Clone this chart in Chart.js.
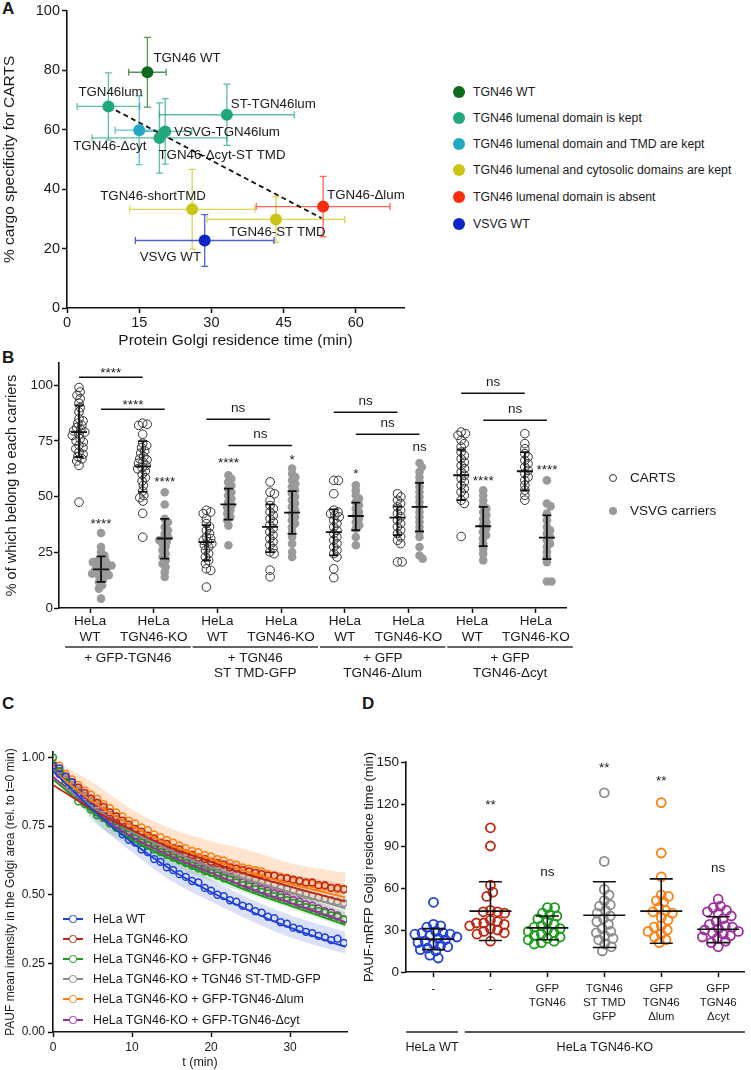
<!DOCTYPE html>
<html>
<head>
<meta charset="utf-8">
<title>TGN46 figure</title>
<script src="https://cdn.jsdelivr.net/npm/chart.js@4.4.1/dist/chart.umd.min.js"></script>
<style>
  html, body { margin: 0; padding: 0; background: #fff; }
  body { position: relative; width: 751px; height: 1070px; overflow: hidden;
         font-family: "Liberation Sans", Arial, Helvetica, sans-serif; color: #1a1a1a; }
  canvas { position: absolute; }
  .txt { position: absolute; white-space: nowrap; }
  .panel { position: absolute; font-weight: bold; font-size: 17px; line-height: 17px; }
  .dot { position: absolute; border-radius: 50%; box-sizing: border-box; }
  .seg { position: absolute; }
</style>
</head>
<body>
<div class="panel" style="left:2px;top:0px">A</div>
<div class="panel" style="left:2px;top:349px">B</div>
<div class="panel" style="left:2px;top:695px">C</div>
<div class="panel" style="left:362px;top:695px">D</div>
<canvas id="chartA" width="420" height="350" style="left:0;top:0"></canvas>
<canvas id="chartB" width="600" height="345" style="left:0;top:340px"></canvas>
<canvas id="chartC" width="370" height="380" style="left:0;top:690px"></canvas>
<canvas id="chartD" width="391" height="380" style="left:360px;top:690px"></canvas>
<div id="legends"></div>
<script>
// ---------- panel A: cargo specificity vs Golgi residence ----------
const aNames = ['TGN46 WT', 'TGN46lum', 'ST-TGN46lum', 'VSVG-TGN46lum', 'TGN46-Δcyt',
  'TGN46-Δcyt-ST TMD', 'TGN46-shortTMD', 'TGN46-ST TMD', 'TGN46-Δlum', 'VSVG WT'];
const aResidence = [16.7, 8.6, 33.2, 20.4, 15.0, 19.2, 26.0, 43.4, 53.2, 28.6];
const aResidenceErr = [3.9, 6.5, 14.0, 5.5, 5.0, 14.0, 13.0, 14.3, 13.9, 14.4];
const aSpecificity = [79.3, 67.8, 65.0, 59.4, 59.8, 57.2, 33.2, 29.8, 34.1, 22.7];
const aSpecificityErr = [11.7, 11.3, 10.3, 11.0, 11.6, 11.8, 13.4, 7.7, 10.2, 8.7];
const aClass = [0, 1, 1, 1, 2, 1, 3, 3, 4, 5];
const aClassNames = ['TGN46 WT', 'TGN46 lumenal domain is kept', 'TGN46 lumenal domain and TMD are kept',
  'TGN46 lumenal and cytosolic domains are kept', 'TGN46 lumenal domain is absent', 'VSVG WT'];
const aClassColors = ['#0e6a1e', '#20a878', '#21a8c6', '#cac412', '#fd2b0d', '#0b25c8'];
const aTrendTime = [8.6, 52.9];
const aTrendSpec = [67.8, 30.2];
const aTimeTicks = [0, 15, 30, 45, 60];
const aSpecTicks = [0, 20, 40, 60, 80, 100];
// label placement relative to each point (px)
const aLabelDx = [6, -30, 4, 9, -66, -1, -92, -47, 4, -65];
const aLabelDy = [-14, -14, -10, 1, 16, 17, -13, 13, -11, 17];

// ---------- panel B: % of carriers ----------
const bCategories = [['HeLa', 'WT'], ['HeLa', 'TGN46-KO'], ['HeLa', 'WT'], ['HeLa', 'TGN46-KO'],
  ['HeLa', 'WT'], ['HeLa', 'TGN46-KO'], ['HeLa', 'WT'], ['HeLa', 'TGN46-KO']];
const bTreatments = [['+ GFP-TGN46'], ['+ TGN46', 'ST TMD-GFP'], ['+ GFP', 'TGN46-Δlum'], ['+ GFP', 'TGN46-Δcyt']];
const bCarts = [
  [99, 97, 95.5, 94, 92, 90, 88, 85, 84, 83, 82, 81, 80, 79.5, 79, 78, 77.5, 76, 75, 74.5, 73, 72, 71.5, 70, 69, 68, 67, 66, 64, 47.5],
  [83, 82.5, 82, 78, 74, 73, 72, 70.5, 69.5, 68, 67, 66.5, 65.5, 65, 64, 63, 62.5, 61.5, 60, 58.5, 57, 55, 52.5, 50.5, 49.5, 48, 42.5, 31.8],
  [43.9, 43.1, 42.4, 40.1, 37.9, 36.4, 34.9, 33.4, 31.9, 31.2, 30.4, 29.7, 28.9, 28.2, 27.4, 25.9, 24.4, 22.9, 21.4, 19.9, 17.6, 16.9, 9.4],
  [56.6, 52, 51.3, 48.3, 46, 44.6, 43.1, 41.6, 40.1, 38.6, 37.2, 35.7, 34.2, 32.7, 31.2, 29.7, 28.2, 26.7, 25.2, 24.4, 17, 14],
  [57.3, 57.3, 51.3, 43.9, 43.1, 42.4, 41.6, 40.9, 39.4, 37.9, 36.4, 34.9, 33.4, 31.9, 30.4, 28.9, 27.4, 25.9, 24.4, 22.9, 17.6, 13.6],
  [51.3, 49.9, 48.4, 46.9, 45.4, 43.9, 42.4, 40.9, 39.4, 37.9, 36.4, 34.9, 33.4, 31.9, 30.4, 28.9, 20.7, 20.7],
  [79, 78.3, 77.5, 75.3, 73.8, 72.3, 70, 68.5, 67, 65.5, 64, 62.6, 61.1, 59.6, 58.1, 56.6, 55.1, 53.6, 52.1, 50.6, 48.4, 46.9, 32.1],
  [78.3, 73.8, 71.5, 69.3, 67.8, 66.3, 64.8, 63.3, 61.8, 60.3, 58.8, 57.3, 55.1, 52.9, 50.6, 48.4]
];
const bVsvg = [
  [33.7, 27.4, 25, 23.6, 22.2, 21.4, 21, 20.6, 20, 19.5, 19.1, 18.4, 17.6, 17, 16.5, 16.1, 15.4, 15, 14.7, 14, 12.7, 11.7, 10.2, 8.7, 4.2],
  [52, 46.5, 40, 38.5, 36.4, 34.9, 33.4, 31.9, 31.2, 30.4, 29.7, 28.9, 27.4, 25.9, 24.4, 22.9, 21.4, 19.9, 18.4, 16.1, 13.9],
  [59.6, 58, 56.5, 55, 53.5, 52, 50.5, 49, 47.5, 46, 45.3, 43.9, 42.4, 40.9, 39.4, 37, 28.2],
  [62.6, 60.3, 58.8, 57.3, 55.8, 54.4, 52.9, 51.4, 49.9, 48.4, 46.9, 45.4, 43.9, 42.4, 40.9, 39.4, 37.9, 36.4, 34.2, 31.9, 28.9, 25.1, 22.9],
  [55.1, 52.9, 50.6, 49.1, 47.6, 46.1, 44.6, 43.1, 41.6, 40.1, 38.6, 37.2, 35.7, 31.9, 28.2],
  [65.1, 63.3, 61.1, 58.8, 56.6, 54.4, 52.1, 49.9, 47.6, 45.4, 43.1, 40.9, 38.6, 36.4, 34.2, 31.9, 27.4, 23.6, 22.1],
  [52.9, 50.6, 48.4, 46.1, 44.6, 43.1, 41.6, 40.1, 38.6, 37.2, 35.7, 34.2, 32.7, 31.2, 28.9, 26.7, 24.4, 21.4],
  [57.3, 46.9, 45.7, 42.4, 39.4, 36.4, 34.9, 33.4, 31.9, 30.4, 28.9, 27.4, 25.1, 22.9, 20.6, 11.9, 11.9]
];
const bCartsMean = [79, 63.6, 29.6, 36.4, 34.1, 40.6, 59.6, 61.4];
const bCartsLo = [67.8, 52.1, 21.4, 25.1, 23.6, 32.7, 48.4, 52.8];
const bCartsHi = [91, 74.9, 37.2, 46.5, 44.3, 45.6, 71.1, 70];
const bVsvgMean = [17.3, 31.2, 46.5, 42.8, 41.3, 45.4, 36.7, 31.6];
const bVsvgLo = [11.7, 22.2, 39.7, 33.3, 34.9, 34.4, 27.8, 21.9];
const bVsvgHi = [23.2, 40, 53.6, 52.5, 47.3, 56.2, 45.4, 41.6];
const bPairSig = [['****', '****'], ['ns', 'ns'], ['ns', 'ns'], ['ns', 'ns']];
const bCartsLineY = [103.6, 84.7, 87.9, 96.4];
const bVsvgLineY = [89.2, 73, 78, 84.3];
const bVsvgSig = ['****', '****', '****', '*', '*', 'ns', '****', '****'];
const bVsvgSigY = [39.4, 58.2, 66.8, 68.1, 61.8, 72.2, 58.7, 63.6];
const bTicks = [0, 25, 50, 75, 100];

// ---------- panel C: PAUF decay ----------
const cNames = ['HeLa WT', 'HeLa TGN46-KO', 'HeLa TGN46-KO + GFP-TGN46', 'HeLa TGN46-KO + TGN46 ST-TMD-GFP',
  'HeLa TGN46-KO + GFP-TGN46-Δlum', 'HeLa TGN46-KO + GFP-TGN46-Δcyt'];
const cColors = ['#1f40d8', '#bf2510', '#1c9c1c', '#8c8c8c', '#ff7f0e', '#9c2f9c'];
const cTimes = [0, 0.8, 1.6, 2.4, 3.2, 4, 4.8, 5.6, 6.4, 7.2, 8, 8.8, 9.6, 10.4, 11.2, 12, 12.8, 13.6, 14.4, 15.2,
  16, 16.8, 17.6, 18.4, 19.2, 20, 20.8, 21.6, 22.4, 23.2, 24, 24.8, 25.6, 26.4, 27.2, 28, 28.8, 29.6, 30.4,
  31.2, 32, 32.8, 33.6, 34.4, 35.2, 36, 36.8];
const cWT = [0.97, 0.96, 0.93, 0.91, 0.87, 0.85, 0.82, 0.79, 0.78, 0.76, 0.745, 0.72, 0.70, 0.69, 0.665, 0.655,
  0.63, 0.62, 0.60, 0.59, 0.575, 0.565, 0.55, 0.545, 0.525, 0.515, 0.50, 0.495, 0.48, 0.475, 0.46, 0.455, 0.44,
  0.435, 0.42, 0.415, 0.40, 0.395, 0.38, 0.375, 0.365, 0.36, 0.35, 0.345, 0.335, 0.34, 0.325];
const cKO = [0.97, 0.95, 0.93, 0.91, 0.89, 0.87, 0.85, 0.835, 0.82, 0.80, 0.785, 0.77, 0.755, 0.74, 0.73, 0.715,
  0.705, 0.69, 0.685, 0.67, 0.665, 0.65, 0.645, 0.635, 0.63, 0.62, 0.615, 0.61, 0.60, 0.595, 0.59, 0.585, 0.58,
  0.575, 0.57, 0.57, 0.56, 0.56, 0.555, 0.55, 0.545, 0.545, 0.535, 0.535, 0.525, 0.525, 0.52];
const cKOgfp = [1.00, 0.95, 0.91, 0.88, 0.84, 0.83, 0.81, 0.79, 0.78, 0.76, 0.745, 0.73, 0.72, 0.705, 0.69, 0.68,
  0.665, 0.655, 0.645, 0.635, 0.625, 0.615, 0.605, 0.595, 0.585, 0.58, 0.57, 0.56, 0.555, 0.545, 0.535, 0.53, 0.52,
  0.51, 0.505, 0.495, 0.49, 0.48, 0.47, 0.465, 0.455, 0.45, 0.44, 0.435, 0.425, 0.42, 0.41];
const cKOst = [0.97, 0.95, 0.92, 0.90, 0.88, 0.86, 0.84, 0.82, 0.805, 0.79, 0.775, 0.76, 0.745, 0.73, 0.72, 0.705,
  0.695, 0.68, 0.67, 0.66, 0.65, 0.64, 0.635, 0.625, 0.615, 0.61, 0.60, 0.59, 0.585, 0.575, 0.57, 0.56, 0.555,
  0.545, 0.54, 0.535, 0.525, 0.52, 0.515, 0.505, 0.50, 0.495, 0.49, 0.485, 0.48, 0.475, 0.47];
const cKOlum = [0.98, 0.97, 0.94, 0.92, 0.90, 0.88, 0.865, 0.85, 0.83, 0.815, 0.80, 0.785, 0.77, 0.76, 0.745, 0.735,
  0.72, 0.71, 0.70, 0.69, 0.68, 0.67, 0.66, 0.655, 0.645, 0.64, 0.63, 0.625, 0.615, 0.61, 0.60, 0.595, 0.59,
  0.585, 0.575, 0.57, 0.565, 0.56, 0.55, 0.55, 0.54, 0.54, 0.53, 0.53, 0.525, 0.52, 0.52];
const cKOcyt = [0.96, 0.94, 0.91, 0.88, 0.86, 0.84, 0.82, 0.80, 0.785, 0.77, 0.755, 0.74, 0.73, 0.715, 0.70, 0.69,
  0.68, 0.665, 0.655, 0.645, 0.635, 0.625, 0.615, 0.605, 0.595, 0.59, 0.58, 0.57, 0.565, 0.555, 0.545, 0.54, 0.53,
  0.52, 0.515, 0.505, 0.50, 0.49, 0.48, 0.475, 0.465, 0.46, 0.45, 0.44, 0.435, 0.425, 0.41];
const cKnots = [0, 5, 10, 15, 20, 25, 30, 37];
const cFits = [
  [0.95, 0.81, 0.69, 0.59, 0.51, 0.44, 0.38, 0.31],
  [0.90, 0.81, 0.735, 0.67, 0.62, 0.57, 0.53, 0.475],
  [0.92, 0.80, 0.70, 0.63, 0.57, 0.51, 0.46, 0.39],
  [0.92, 0.82, 0.73, 0.66, 0.60, 0.55, 0.51, 0.45],
  [0.95, 0.84, 0.75, 0.68, 0.63, 0.58, 0.54, 0.49],
  [0.93, 0.81, 0.71, 0.64, 0.58, 0.52, 0.47, 0.40]
];
const cBandLo = [
  [0.96, 0.78, 0.655, 0.55, 0.475, 0.405, 0.345, 0.285],
  [0.96, 0.825, 0.72, 0.652, 0.60, 0.565, 0.535, 0.50],
  [0.99, 0.77, 0.68, 0.605, 0.55, 0.50, 0.45, 0.38],
  [0.96, 0.805, 0.70, 0.625, 0.58, 0.535, 0.495, 0.44],
  [0.97, 0.83, 0.71, 0.64, 0.585, 0.54, 0.495, 0.46],
  [0.95, 0.80, 0.695, 0.627, 0.565, 0.515, 0.46, 0.385]
];
const cBandHi = [
  [0.98, 0.84, 0.725, 0.63, 0.555, 0.485, 0.425, 0.365],
  [0.98, 0.865, 0.76, 0.692, 0.64, 0.605, 0.575, 0.54],
  [1.0, 0.83, 0.74, 0.665, 0.61, 0.56, 0.51, 0.44],
  [0.98, 0.865, 0.76, 0.685, 0.64, 0.595, 0.555, 0.50],
  [0.99, 0.91, 0.81, 0.74, 0.695, 0.66, 0.615, 0.58],
  [0.97, 0.85, 0.745, 0.677, 0.615, 0.565, 0.51, 0.435]
];
const cTimeTicks = [0, 10, 20, 30];
const cIntTicks = [0, 0.25, 0.5, 0.75, 1.0];

// ---------- panel D: PAUF-mRFP residence time ----------
const dLabels = [['-'], ['-'], ['GFP', 'TGN46'], ['TGN46', 'ST TMD', 'GFP'], ['GFP', 'TGN46', 'Δlum'], ['GFP', 'TGN46', 'Δcyt']];
const dColors = ['#1f40d8', '#bf2510', '#1c9c1c', '#8c8c8c', '#ff7f0e', '#9c2f9c'];
const dValues = [
  [49.8, 34, 33, 32, 29, 28, 28, 27, 27, 26, 25, 24, 23, 22, 21, 20, 19, 18, 17, 16, 15, 12, 10],
  [103, 90, 62, 57, 54, 44, 43, 43, 42, 37, 36, 35, 35, 34, 33, 31, 30, 29, 28, 27, 22],
  [46, 46, 42, 41, 40, 38, 36, 34, 33, 32, 31, 30, 29, 28, 27, 26, 25, 24, 23, 22, 21, 20],
  [128, 79, 59, 55, 51, 48, 47, 44, 42, 40, 38, 36, 34, 31, 29, 28, 26, 24, 23, 20, 18, 15],
  [121, 85, 68, 55, 54, 51, 50, 46, 44, 43, 42, 39, 37, 33, 32, 30, 29, 27, 25, 23, 21],
  [52, 47, 46, 44, 43, 42, 40, 38, 36, 34, 33, 32, 31, 30, 29, 28, 27, 26, 25, 24, 22, 21, 18]
];
const dMean = [23.5, 43.5, 31.5, 40.5, 43.5, 30.5];
const dLo = [16, 22.5, 23, 17.5, 20.5, 21];
const dHi = [31, 64.5, 40, 64.5, 66.5, 39.5];
const dSig = ['', '**', 'ns', '**', '**', 'ns'];
const dSigY = [0, 122, 71.4, 148.6, 139.3, 73.6];
const dCells = ['HeLa WT', 'HeLa TGN46-KO'];
const dCellSpan = [[-0.48, 0.43], [0.55, 5.47]];
const dTicks = [0, 30, 60, 90, 120, 150];

// ---------- common setup ----------
const FONT = '"Liberation Sans", Arial, Helvetica, sans-serif';
const INK = '#1a1a1a';
Chart.defaults.font.family = FONT;
Chart.defaults.color = INK;
Chart.defaults.animation = false;
Chart.defaults.responsive = false;
Chart.defaults.devicePixelRatio = 1;
Chart.defaults.events = [];
Chart.defaults.plugins.legend.display = false;
Chart.defaults.plugins.tooltip.enabled = false;

function rgba(hex, a) {
  const n = parseInt(hex.slice(1), 16);
  return `rgba(${n >> 16},${(n >> 8) & 255},${n & 255},${a})`;
}
const fixTicks = vals => scale => { scale.ticks = vals.map(v => ({ value: v })); };
function axis(extra) {
  return Object.assign({
    type: 'linear',
    grid: { display: true, drawOnChartArea: false, drawTicks: true, tickLength: 5, tickWidth: 1.5, tickColor: '#111' },
    border: { display: true, color: '#111', width: 1.6 }
  }, extra);
}

// simple beeswarm: horizontal offsets (in x units) so circles don't pile up
function swarm(vals, pxPerY, pxPerX, diam) {
  const order = vals.map((v, i) => i).sort((a, b) => vals[b] - vals[a]);
  const placed = [];
  const off = new Array(vals.length).fill(0);
  order.forEach(i => {
    const y = vals[i] * pxPerY;
    const cands = [0];
    placed.forEach(p => {
      const dy = Math.abs(p.y - y);
      if (dy < diam) {
        const dx = Math.sqrt(diam * diam - dy * dy);
        cands.push(p.x + dx, p.x - dx);
      }
    });
    cands.sort((a, b) => Math.abs(a) - Math.abs(b));
    const x = cands.find(c => placed.every(p => (p.x - c) ** 2 + (p.y - y) ** 2 >= diam * diam - 0.01));
    placed.push({ x, y });
    off[i] = x / pxPerX;
  });
  return off;
}

function meanSd(ctx, cx, yMean, yLo, yHi, hw, cw) {
  ctx.beginPath();
  ctx.moveTo(cx, yLo); ctx.lineTo(cx, yHi);
  ctx.moveTo(cx - cw, yLo); ctx.lineTo(cx + cw, yLo);
  ctx.moveTo(cx - cw, yHi); ctx.lineTo(cx + cw, yHi);
  ctx.moveTo(cx - hw, yMean); ctx.lineTo(cx + hw, yMean);
  ctx.stroke();
}
// text placed by the visual centre of its glyphs
function sigText(ctx, text, x, yc, size) {
  ctx.font = `${size}px ${FONT}`;
  ctx.textAlign = 'center';
  ctx.textBaseline = 'alphabetic';
  const k = text.includes('*') ? 0.57 : 0.26;
  ctx.fillText(text, x, yc + k * size);
}

// ---------- chart A ----------
const aPlugin = {
  id: 'aPlugin',
  beforeDatasetsDraw(chart) {
    const { ctx, scales: { x, y } } = chart;
    ctx.save();
    ctx.lineWidth = 1.3;
    aNames.forEach((n, i) => {
      const px = x.getPixelForValue(aResidence[i]);
      const py = y.getPixelForValue(aSpecificity[i]);
      const xl = x.getPixelForValue(aResidence[i] - aResidenceErr[i]);
      const xr = x.getPixelForValue(aResidence[i] + aResidenceErr[i]);
      const yt = y.getPixelForValue(aSpecificity[i] + aSpecificityErr[i]);
      const yb = y.getPixelForValue(aSpecificity[i] - aSpecificityErr[i]);
      ctx.strokeStyle = rgba(aClassColors[aClass[i]], 0.72);
      ctx.beginPath();
      ctx.moveTo(xl, py); ctx.lineTo(xr, py);
      ctx.moveTo(xl, py - 3.5); ctx.lineTo(xl, py + 3.5);
      ctx.moveTo(xr, py - 3.5); ctx.lineTo(xr, py + 3.5);
      ctx.moveTo(px, yt); ctx.lineTo(px, yb);
      ctx.moveTo(px - 3.5, yt); ctx.lineTo(px + 3.5, yt);
      ctx.moveTo(px - 3.5, yb); ctx.lineTo(px + 3.5, yb);
      ctx.stroke();
    });
    ctx.restore();
  },
  afterDatasetsDraw(chart) {
    const { ctx, scales: { x, y } } = chart;
    ctx.save();
    ctx.fillStyle = INK;
    ctx.font = `13.3px ${FONT}`;
    ctx.textAlign = 'left';
    ctx.textBaseline = 'middle';
    aNames.forEach((n, i) => {
      ctx.fillText(n, x.getPixelForValue(aResidence[i]) + aLabelDx[i], y.getPixelForValue(aSpecificity[i]) + aLabelDy[i]);
    });
    ctx.restore();
  }
};
const aDatasets = aClassNames.map((cls, k) => ({
  label: cls,
  data: aNames.map((n, i) => ({ x: aResidence[i], y: aSpecificity[i], k: aClass[i] })).filter(p => p.k === k),
  backgroundColor: aClassColors[k],
  borderColor: aClassColors[k],
  borderWidth: 0,
  pointRadius: 6,
  order: 1
}));
aDatasets.push({
  type: 'line',
  data: aTrendTime.map((t, i) => ({ x: t, y: aTrendSpec[i] })),
  borderColor: '#111', borderWidth: 1.8, borderDash: [5, 3.5], pointRadius: 0, order: 2
});
new Chart(document.getElementById('chartA'), {
  type: 'scatter',
  data: { datasets: aDatasets },
  options: {
    layout: { padding: { left: 0, top: 10, right: 16, bottom: 0 } },
    scales: {
      x: axis({
        min: 0, max: 70, afterBuildTicks: fixTicks(aTimeTicks), afterFit: s => { s.height = 42; },
        ticks: { font: { size: 14.5 }, padding: 1, color: INK, autoSkip: false, maxRotation: 0 },
        title: { display: true, text: 'Protein Golgi residence time (min)', font: { size: 15.5 }, padding: 0, color: INK }
      }),
      y: axis({
        min: 0, max: 100, afterBuildTicks: fixTicks(aSpecTicks), afterFit: s => { s.width = 67; },
        ticks: { font: { size: 14.5 }, padding: 2, color: INK },
        title: { display: true, text: '% cargo specificity for CARTS', font: { size: 15.5 }, padding: 0, color: INK }
      })
    }
  },
  plugins: [aPlugin]
});

// ---------- chart B ----------
const B_SHIFT = 0.173;
const bCartsOff = bCarts.map(v => swarm(v, 2.227, 63.7, 4.6));
const bVsvgOff = bVsvg.map(v => swarm(v, 2.227, 63.7, 4.6));
const bPlugin = {
  id: 'bPlugin',
  afterDatasetsDraw(chart) {
    const { ctx, scales: { x, y } } = chart;
    ctx.save();
    ctx.strokeStyle = '#111';
    ctx.lineWidth = 1.8;
    bCategories.forEach((c, i) => {
      meanSd(ctx, x.getPixelForValue(i - B_SHIFT), y.getPixelForValue(bCartsMean[i]),
        y.getPixelForValue(bCartsLo[i]), y.getPixelForValue(bCartsHi[i]), 8, 4.5);
      meanSd(ctx, x.getPixelForValue(i + B_SHIFT), y.getPixelForValue(bVsvgMean[i]),
        y.getPixelForValue(bVsvgLo[i]), y.getPixelForValue(bVsvgHi[i]), 8, 4.5);
    });
    ctx.fillStyle = INK;
    ctx.lineWidth = 1.5;
    bPairSig.forEach((sig, k) => {
      [[bCartsLineY[k], -B_SHIFT, sig[0]], [bVsvgLineY[k], B_SHIFT, sig[1]]].forEach(([ly, sh, txt]) => {
        const x0 = x.getPixelForValue(2 * k + sh), x1 = x.getPixelForValue(2 * k + 1 + sh);
        const py = y.getPixelForValue(ly);
        ctx.beginPath(); ctx.moveTo(x0, py); ctx.lineTo(x1, py); ctx.stroke();
        sigText(ctx, txt, (x0 + x1) / 2, py - (txt.includes('*') ? 8 : 11), 13.5);
      });
    });
    bVsvgSig.forEach((s, i) => sigText(ctx, s, x.getPixelForValue(i + B_SHIFT), y.getPixelForValue(bVsvgSigY[i]), 13.5));
    ctx.restore();
  },
  afterDraw(chart) {
    const { ctx, chartArea, scales: { x } } = chart;
    ctx.save();
    ctx.strokeStyle = '#333';
    ctx.lineWidth = 1.5;
    ctx.fillStyle = INK;
    ctx.font = `13.5px ${FONT}`;
    ctx.textAlign = 'center';
    ctx.textBaseline = 'middle';
    bTreatments.forEach((lines, k) => {
      const x0 = x.getPixelForValue(2 * k - 0.39), x1 = x.getPixelForValue(2 * k + 1.58);
      const ly = chartArea.bottom + 39;
      ctx.beginPath(); ctx.moveTo(x0, ly); ctx.lineTo(x1, ly); ctx.stroke();
      lines.forEach((t, j) => ctx.fillText(t, (x0 + x1) / 2, chartArea.bottom + 50 + 15.5 * j));
    });
    ctx.restore();
  }
};
new Chart(document.getElementById('chartB'), {
  type: 'scatter',
  data: {
    datasets: [
      {
        label: 'CARTS',
        data: bCarts.flatMap((vals, i) => vals.map((v, j) => ({ x: i - B_SHIFT + bCartsOff[i][j], y: v }))),
        backgroundColor: 'rgba(255,255,255,0)', borderColor: '#333', borderWidth: 1, pointRadius: 4.3
      },
      {
        label: 'VSVG carriers',
        data: bVsvg.flatMap((vals, i) => vals.map((v, j) => ({ x: i + B_SHIFT + bVsvgOff[i][j], y: v }))),
        backgroundColor: '#9a9a9a', borderColor: '#9a9a9a', borderWidth: 0, pointRadius: 4.3
      }
    ]
  },
  options: {
    layout: { padding: { left: 0, top: 23, right: 34, bottom: 0 } },
    scales: {
      x: axis({
        min: -0.487, max: 7.473, afterBuildTicks: fixTicks(bCategories.map((c, i) => i)),
        afterFit: s => { s.height = 77; },
        ticks: { font: { size: 13.5, lineHeight: 1.2 }, padding: 0, color: INK, autoSkip: false, maxRotation: 0, minRotation: 0,
          callback: v => bCategories[v] }
      }),
      y: axis({
        min: 0, max: 110, afterBuildTicks: fixTicks(bTicks), afterFit: s => { s.width = 59; },
        ticks: { font: { size: 13.5 }, padding: 1, color: INK },
        title: { display: true, text: '% of which belong to each carriers', font: { size: 14.5 }, padding: { top: 3 }, color: INK }
      })
    }
  },
  plugins: [bPlugin]
});

// ---------- chart C ----------
const cValues = [cWT, cKO, cKOgfp, cKOst, cKOlum, cKOcyt];
const cDrawOrder = [2, 3, 1, 5, 6, 4]; // lower = drawn on top
const cDatasets = [];
cValues.forEach((vals, s) => {
  cDatasets.push({
    data: cKnots.map((t, i) => ({ x: t, y: cBandHi[s][i] })),
    showLine: true, borderWidth: 0, pointRadius: 0, cubicInterpolationMode: 'monotone', order: 20 + s
  });
  cDatasets.push({
    data: cKnots.map((t, i) => ({ x: t, y: cBandLo[s][i] })),
    showLine: true, borderWidth: 0, pointRadius: 0, cubicInterpolationMode: 'monotone', order: 20 + s,
    fill: '-1', backgroundColor: rgba(cColors[s], s === 4 ? 0.2 : 0.16)
  });
});
cValues.forEach((vals, s) => {
  cDatasets.push({
    label: cNames[s],
    data: cTimes.map((t, i) => ({ x: t, y: vals[i] })),
    showLine: false, pointStyle: 'circle', pointRadius: 3.4, borderWidth: 1.5,
    borderColor: cColors[s], backgroundColor: 'rgba(255,255,255,0)', order: 2 + cDrawOrder[s]
  });
  cDatasets.push({
    data: cKnots.map((t, i) => ({ x: t, y: cFits[s][i] })),
    showLine: true, borderColor: cColors[s], borderWidth: 1.8, pointRadius: 0,
    cubicInterpolationMode: 'monotone', order: 1
  });
});
new Chart(document.getElementById('chartC'), {
  type: 'scatter',
  data: { datasets: cDatasets },
  options: {
    layout: { padding: { left: 0, top: 62, right: 23, bottom: 0 } },
    plugins: { filler: { propagate: false } },
    scales: {
      x: axis({
        min: 0, max: 37.2, afterBuildTicks: fixTicks(cTimeTicks), afterFit: s => { s.height = 38; },
        ticks: { font: { size: 12 }, padding: 3, color: INK, autoSkip: false, maxRotation: 0 },
        title: { display: true, text: 't (min)', font: { size: 12.5 }, padding: 0, color: INK }
      }),
      y: axis({
        min: 0, max: 1.02, afterBuildTicks: fixTicks(cIntTicks), afterFit: s => { s.width = 53; },
        ticks: { font: { size: 12 }, padding: 3, color: INK, callback: v => v.toFixed(2) },
        title: { display: true, text: 'PAUF mean intensity in the Golgi area (rel. to t=0 min)', font: { size: 12 }, padding: { top: 3 }, color: INK }
      })
    }
  }
});

// ---------- chart D ----------
const dOff = dValues.map(v => swarm(v, 1.4, 58, 7.4));
const dPlugin = {
  id: 'dPlugin',
  afterDatasetsDraw(chart) {
    const { ctx, scales: { x, y } } = chart;
    ctx.save();
    ctx.strokeStyle = '#111';
    ctx.lineWidth = 1.6;
    dMean.forEach((m, i) => {
      meanSd(ctx, x.getPixelForValue(i), y.getPixelForValue(m), y.getPixelForValue(dLo[i]), y.getPixelForValue(dHi[i]), 21, 11.5);
    });
    ctx.fillStyle = INK;
    dSig.forEach((s, i) => { if (s) sigText(ctx, s, x.getPixelForValue(i), y.getPixelForValue(dSigY[i]), 13.5); });
    ctx.restore();
  },
  afterDraw(chart) {
    const { ctx, chartArea, scales: { x } } = chart;
    ctx.save();
    ctx.strokeStyle = '#222';
    ctx.lineWidth = 1.6;
    ctx.fillStyle = INK;
    ctx.font = `12.6px ${FONT}`;
    ctx.textAlign = 'center';
    ctx.textBaseline = 'middle';
    dCells.forEach((t, k) => {
      const x0 = x.getPixelForValue(dCellSpan[k][0]), x1 = x.getPixelForValue(dCellSpan[k][1]);
      const ly = chartArea.bottom + 60;
      ctx.beginPath(); ctx.moveTo(x0, ly); ctx.lineTo(x1, ly); ctx.stroke();
      ctx.fillText(t, (x0 + x1) / 2, chartArea.bottom + 76);
    });
    ctx.restore();
  }
};
new Chart(document.getElementById('chartD'), {
  type: 'scatter',
  data: {
    datasets: dValues.map((vals, g) => ({
      data: vals.map((v, j) => ({ x: g + dOff[g][j], y: v })),
      pointRadius: 4.5, borderWidth: 1.8, borderColor: dColors[g], backgroundColor: 'rgba(255,255,255,0)'
    }))
  },
  options: {
    layout: { padding: { left: 0, top: 72, right: 0, bottom: 0 } },
    scales: {
      x: axis({
        min: -0.483, max: 5.466, afterBuildTicks: fixTicks(dLabels.map((l, i) => i)),
        afterFit: s => { s.height = 98; },
        ticks: { font: { size: 11.5, lineHeight: 1.2 }, padding: 5, color: INK, autoSkip: false, maxRotation: 0, minRotation: 0,
          callback: v => dLabels[v] }
      }),
      y: axis({
        min: 0, max: 150, afterBuildTicks: fixTicks(dTicks), afterFit: s => { s.width = 46; },
        ticks: { font: { size: 13.5 }, padding: 2, color: INK },
        title: { display: true, text: 'PAUF-mRFP Golgi residence time (min)', font: { size: 13 }, padding: { top: 2 }, color: INK }
      })
    }
  },
  plugins: [dPlugin]
});

// ---------- HTML legends ----------
const legends = document.getElementById('legends');
function addText(text, left, yc, size) {
  const d = document.createElement('div');
  d.className = 'txt';
  d.textContent = text;
  d.style.cssText = `left:${left}px;top:${yc - size * 0.6}px;font-size:${size}px;line-height:${size * 1.2}px`;
  legends.appendChild(d);
}
function addDot(cx, cy, r, fill, stroke, bw) {
  const d = document.createElement('div');
  d.className = 'dot';
  d.style.cssText = `left:${cx - r}px;top:${cy - r}px;width:${2 * r}px;height:${2 * r}px;background:${fill};` +
    (stroke ? `border:${bw}px solid ${stroke};` : '');
  legends.appendChild(d);
}
const aLegendY = [92, 118, 144, 170, 197, 224];
aClassNames.forEach((n, k) => {
  addDot(459, aLegendY[k], 6, aClassColors[k]);
  addText(n, 473, aLegendY[k], 12.3);
});
addDot(613, 478, 4.3, '#fff', '#333', 1);
addText('CARTS', 630, 478, 13.5);
addDot(613, 511, 4.3, '#9a9a9a');
addText('VSVG carriers', 630, 511, 13.5);
const cLegendY = [919, 939, 959, 979, 999, 1020];
cNames.forEach((n, s) => {
  const seg = document.createElement('div');
  seg.className = 'seg';
  seg.style.cssText = `left:63px;top:${cLegendY[s] - 1}px;width:20px;height:2px;background:${cColors[s]}`;
  legends.appendChild(seg);
  addDot(73, cLegendY[s], 3.6, '#fff', cColors[s], 1.5);
  addText(n, 93, cLegendY[s], 12.4);
});
</script>
</body>
</html>
